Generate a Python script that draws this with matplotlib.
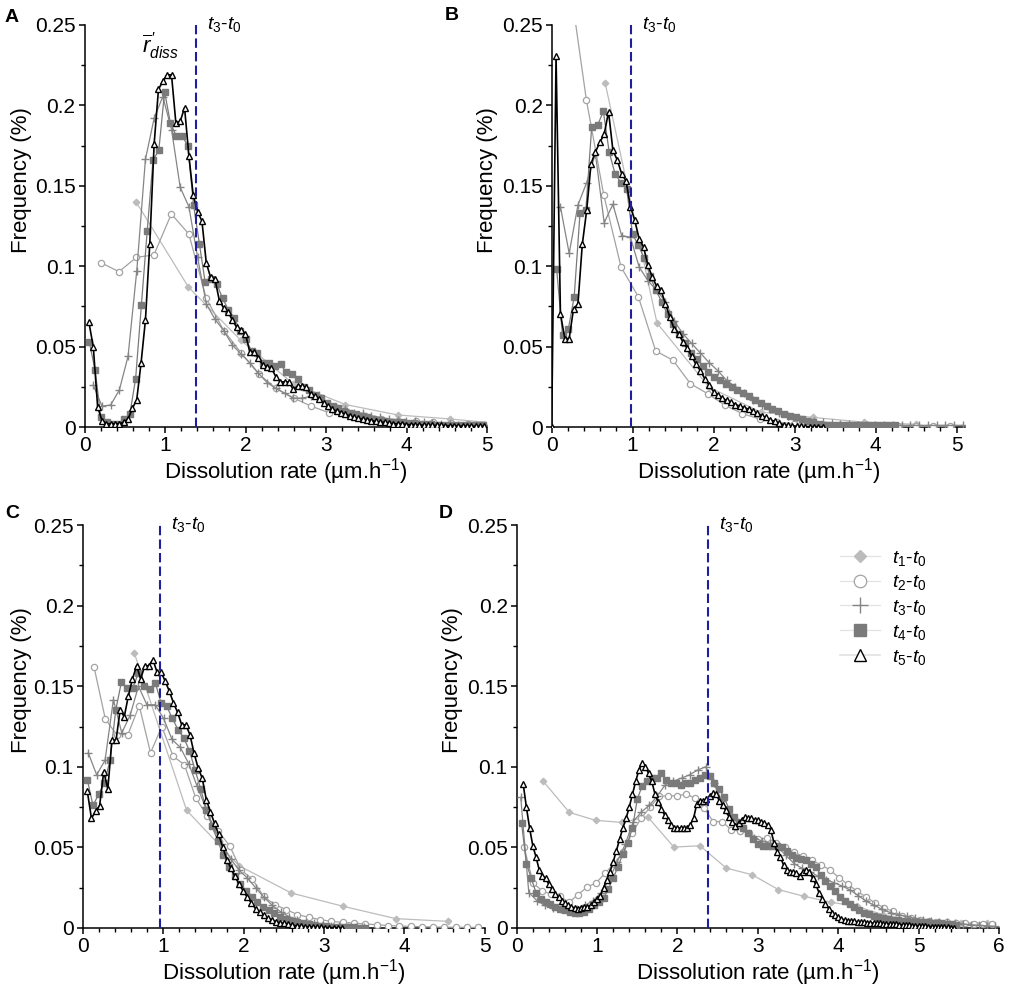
import numpy as np
import matplotlib
matplotlib.use("Agg")
import matplotlib.pyplot as plt
from matplotlib.lines import Line2D
from matplotlib.ticker import MultipleLocator

plt.rcParams['font.family'] = ['Liberation Sans', 'DejaVu Sans']
plt.rcParams['mathtext.fontset'] = 'custom'
plt.rcParams['mathtext.rm'] = 'Liberation Sans'
plt.rcParams['mathtext.it'] = 'Liberation Sans:italic'
plt.rcParams['mathtext.bf'] = 'Liberation Sans:bold'

# each series: (first bin, bin step, frequencies)
# ---- panel A ----
a_t1 = (0.64, 0.65, [0.140, 0.087, 0.054, 0.027, 0.014, 0.0075, 0.005, 0.002])
a_t2 = (0.21, 0.217, [0.102, 0.0966, 0.1055, 0.107, 0.1325, 0.120, 0.080, 0.060, 0.046, 0.033,
                      0.024, 0.018, 0.013, 0.009, 0.008, 0.006, 0.005, 0.004, 0.0035, 0.003,
                      0.0025, 0.002])
a_t3 = (0.108, 0.108, [0.026, 0.013, 0.0137, 0.023, 0.044, 0.097, 0.1665, 0.192, 0.2055, 0.185,
                       0.149, 0.137, 0.1055, 0.0765, 0.067, 0.060, 0.051, 0.0454, 0.040, 0.0334,
                       0.0276, 0.024, 0.021, 0.018, 0.018, 0.019, 0.020, 0.014, 0.012, 0.011,
                       0.009, 0.0085, 0.007, 0.006, 0.005, 0.0045, 0.004, 0.0035, 0.003, 0.0025,
                       0.002, 0.002, 0.0015, 0.001, 0.001, 0.001])
a_t4 = (0.058, 0.072, [0.053, 0.0355, 0.006, 0.003, 0.002, 0.002, 0.005, 0.008, 0.030, 0.076,
                       0.122, 0.166, 0.172, 0.2085, 0.189, 0.181, 0.181, 0.175, 0.138, 0.114,
                       0.090, 0.092, 0.089, 0.080, 0.073, 0.068, 0.060, 0.055, 0.047, 0.046,
                       0.040, 0.040, 0.038, 0.039, 0.034, 0.033, 0.030, 0.025, 0.023, 0.020,
                       0.018, 0.015, 0.013, 0.012, 0.010, 0.009, 0.008, 0.007, 0.006, 0.005,
                       0.004, 0.004, 0.003, 0.003, 0.003, 0.0025, 0.0025, 0.002, 0.002, 0.002,
                       0.0015, 0.0015, 0.0015, 0.001, 0.001, 0.001, 0.001, 0.001, 0.001])
a_t5 = (0.054, 0.054, [0.065, 0.050, 0.0126, 0.004, 0.002, 0.002, 0.002, 0.002, 0.003, 0.005,
                       0.0116, 0.017, 0.040, 0.0665, 0.114, 0.176, 0.210, 0.215, 0.219, 0.219,
                       0.189, 0.190, 0.1986, 0.1685, 0.144, 0.134, 0.128, 0.102, 0.093, 0.092,
                       0.0786, 0.074, 0.0716, 0.0665, 0.062, 0.0605, 0.058, 0.0468, 0.0468, 0.0427,
                       0.0386, 0.0375, 0.0365, 0.0313, 0.0282, 0.028, 0.028, 0.0234, 0.0255, 0.0255,
                       0.0246, 0.0205, 0.019, 0.0175, 0.0147, 0.013, 0.011, 0.010, 0.009, 0.008,
                       0.007, 0.006, 0.0055, 0.005, 0.0045, 0.004, 0.0035, 0.003, 0.003, 0.0025,
                       0.002, 0.002, 0.002, 0.0015, 0.0015, 0.0015, 0.0012, 0.0012, 0.001, 0.001,
                       0.001, 0.001, 0.0008, 0.0008, 0.0008, 0.0006, 0.0006, 0.0006, 0.0005, 0.0005,
                       0.0005, 0.0005])

# ---- panel B ----
b_t1 = (0.66, 0.64, [0.214, 0.0647, 0.0249, 0.0093, 0.006, 0.003, 0.0017])
b_t2 = (0.214, 0.214, [0.28, 0.2035, 0.1445, 0.0995, 0.081, 0.0473, 0.0415, 0.027, 0.0207, 0.0135,
                       0.0083, 0.005, 0.003, 0.002, 0.0015, 0.001, 0.001, 0.0008, 0.0007, 0.0006,
                       0.0005, 0.0005, 0.0005])
b_t3 = (0.108, 0.108, [0.137, 0.108, 0.138, 0.152, 0.170, 0.127, 0.1385, 0.119, 0.118, 0.0995,
                       0.091, 0.085, 0.078, 0.066, 0.058, 0.052, 0.046, 0.040, 0.035, 0.029,
                       0.025, 0.021, 0.017, 0.014, 0.011, 0.009, 0.007, 0.0055, 0.0045, 0.0035,
                       0.003, 0.0025, 0.002, 0.002, 0.0015, 0.0015, 0.0012, 0.0012, 0.001, 0.001,
                       0.001, 0.001, 0.001, 0.001, 0.001, 0.001, 0.001])
b_t4 = (0.062, 0.072, [0.098, 0.057, 0.061, 0.081, 0.133, 0.135, 0.1866, 0.1876, 0.1963, 0.171,
                       0.1575, 0.152, 0.148, 0.120, 0.113, 0.105, 0.094, 0.085, 0.078, 0.070,
                       0.064, 0.058, 0.052, 0.046, 0.042, 0.038, 0.034, 0.031, 0.029, 0.027,
                       0.025, 0.023, 0.021, 0.019, 0.017, 0.015, 0.013, 0.011, 0.010, 0.008,
                       0.007, 0.006, 0.005, 0.004, 0.003, 0.002, 0.0015, 0.001, 0.001, 0.001,
                       0.001, 0.001, 0.001, 0.001, 0.001, 0.001, 0.001, 0.001, 0.001])
b_t5 = (0.0, 0.054, [0.0, 0.2305, 0.0705, 0.055, 0.055, 0.0736, 0.0763, 0.1136, 0.1347, 0.1638,
                     0.171, 0.177, 0.182, 0.196, 0.172, 0.166, 0.1575, 0.153, 0.137, 0.1285,
                     0.117, 0.112, 0.1005, 0.0933, 0.0875, 0.085, 0.0767, 0.0684, 0.061, 0.058,
                     0.0529, 0.049, 0.044, 0.039, 0.035, 0.030, 0.026, 0.022, 0.020, 0.018,
                     0.0165, 0.0155, 0.014, 0.013, 0.012, 0.0112, 0.010, 0.0085, 0.007, 0.006,
                     0.0045, 0.0035, 0.0025, 0.0015, 0.001, 0.0008, 0.0005, 0.0004, 0.0003, 0.0002,
                     0.0001, 0.0, 0.0])

# ---- panel C ----
c_t1 = (0.642, 0.65, [0.1706, 0.073, 0.0387, 0.0217, 0.0134, 0.0058, 0.0041])
c_t2 = (0.141, 0.1405, [0.162, 0.1297, 0.120, 0.120, 0.138, 0.1086, 0.125, 0.1065, 0.1013, 0.0806,
                        0.0697, 0.060, 0.051, 0.036, 0.0304, 0.0196, 0.0145, 0.0114, 0.0083, 0.0066,
                        0.0052, 0.0041, 0.0035, 0.003, 0.0025, 0.002, 0.0015, 0.0012, 0.001, 0.0008,
                        0.0006, 0.0005, 0.0004, 0.0004, 0.0003])
c_t3 = (0.07, 0.104, [0.1086, 0.095, 0.104, 0.1416, 0.121, 0.132, 0.150, 0.1385, 0.1385, 0.130,
                      0.117, 0.112, 0.102, 0.088, 0.075, 0.062, 0.052, 0.043, 0.036, 0.031,
                      0.025, 0.019, 0.014, 0.010, 0.007, 0.005, 0.004, 0.003, 0.002, 0.0015,
                      0.001, 0.0008, 0.0005, 0.0003])
c_t4 = (0.058, 0.0705, [0.092, 0.076, 0.083, 0.090, 0.104, 0.135, 0.1524, 0.1489, 0.149, 0.158,
                        0.150, 0.148, 0.152, 0.1396, 0.1375, 0.130, 0.123, 0.118, 0.110, 0.098,
                        0.086, 0.073, 0.063, 0.054, 0.045, 0.038, 0.032, 0.027, 0.023, 0.019,
                        0.016, 0.013, 0.011, 0.009, 0.007, 0.0055, 0.0045, 0.0035, 0.0028, 0.0022,
                        0.0017, 0.0013, 0.001, 0.0008, 0.0006, 0.0005, 0.0004, 0.0003, 0.0002, 0.0001])
c_t5 = (0.058, 0.051, [0.0848, 0.068, 0.0724, 0.0759, 0.097, 0.0862, 0.1168, 0.1164, 0.1354, 0.131,
                       0.144, 0.1545, 0.1627, 0.1545, 0.1627, 0.1627, 0.1665, 0.1586, 0.1586, 0.153,
                       0.1468, 0.1396, 0.1338, 0.126, 0.126, 0.120, 0.1086, 0.0993, 0.093, 0.0796,
                       0.072, 0.065, 0.058, 0.050, 0.0424, 0.037, 0.032, 0.027, 0.023, 0.019,
                       0.0155, 0.012, 0.010, 0.0078, 0.0062, 0.005, 0.004, 0.0033, 0.0028, 0.0022,
                       0.0017, 0.0013, 0.001, 0.0008, 0.0006, 0.0005, 0.0004, 0.0003, 0.0002, 0.0002,
                       0.0001, 0.0001, 0.0])

# ---- panel D ----
d_t1 = (0.33, 0.325, [0.091, 0.0717, 0.0668, 0.0655, 0.0689, 0.0502, 0.051, 0.0372, 0.033, 0.0238,
                      0.0196, 0.016, 0.0134, 0.0083, 0.005, 0.004, 0.003, 0.003])
d_t2 = (0.092, 0.112, [0.050, 0.028, 0.023, 0.021, 0.0196, 0.016, 0.0207, 0.0254, 0.028, 0.034,
                       0.040, 0.047, 0.059, 0.068, 0.075, 0.0817, 0.082, 0.082, 0.083, 0.0806,
                       0.0744, 0.066, 0.066, 0.061, 0.060, 0.059, 0.055, 0.0558, 0.0527, 0.050,
                       0.047, 0.0445, 0.042, 0.039, 0.036, 0.031, 0.027, 0.0227, 0.0192, 0.0155,
                       0.0124, 0.0103, 0.0077, 0.0062, 0.0052, 0.0045, 0.004, 0.0035, 0.0032, 0.003,
                       0.0027, 0.0027, 0.0025])
d_t3 = (0.05, 0.1, [0.081, 0.022, 0.017, 0.014, 0.0125, 0.012, 0.0115, 0.012, 0.014, 0.017,
                    0.022, 0.030, 0.041, 0.052, 0.066, 0.072, 0.076, 0.082, 0.089, 0.091,
                    0.093, 0.095, 0.098, 0.100, 0.090, 0.079, 0.071, 0.065, 0.060, 0.056,
                    0.054, 0.0525, 0.050, 0.045, 0.040, 0.037, 0.035, 0.032, 0.030, 0.028,
                    0.026, 0.0235, 0.020, 0.0165, 0.014, 0.0115, 0.0095, 0.0082, 0.0072, 0.006,
                    0.0052, 0.0046, 0.004, 0.0035, 0.003, 0.0025, 0.002, 0.0017, 0.0013, 0.001])
d_t4 = (0.06, 0.06, [0.065, 0.040, 0.031, 0.022, 0.018, 0.016, 0.015, 0.013, 0.012, 0.011,
                     0.010, 0.0095, 0.0093, 0.010, 0.0118, 0.014, 0.016, 0.0186, 0.024, 0.031,
                     0.038, 0.046, 0.053, 0.062, 0.080, 0.088, 0.091, 0.093, 0.093, 0.096,
                     0.092, 0.090, 0.090, 0.089, 0.090, 0.090, 0.092, 0.093, 0.095, 0.094,
                     0.090, 0.086, 0.081, 0.074, 0.069, 0.066, 0.062, 0.059, 0.055, 0.052,
                     0.0507, 0.0507, 0.0507, 0.051, 0.050, 0.0475, 0.045, 0.0434, 0.043, 0.0424,
                     0.040, 0.038, 0.033, 0.029, 0.026, 0.023, 0.019, 0.017, 0.015, 0.013,
                     0.011, 0.0095, 0.0085, 0.0075, 0.0068, 0.0062, 0.0056, 0.0051, 0.0047, 0.0043,
                     0.0041, 0.0039, 0.0037, 0.0035, 0.0034, 0.0033, 0.0032, 0.0031, 0.0025, 0.0022,
                     0.002])
d_t5 = (0.08, 0.04, [0.0895, 0.075, 0.062, 0.051, 0.044, 0.036, 0.032, 0.031, 0.027, 0.024,
                     0.021, 0.019, 0.017, 0.0155, 0.014, 0.013, 0.0125, 0.012, 0.0125, 0.013,
                     0.013, 0.014, 0.016, 0.018, 0.020, 0.025, 0.030, 0.035, 0.041, 0.048,
                     0.055, 0.062, 0.068, 0.075, 0.083, 0.091, 0.098, 0.1024, 0.100, 0.096,
                     0.091, 0.083, 0.078, 0.074, 0.070, 0.067, 0.064, 0.062, 0.062, 0.062,
                     0.062, 0.062, 0.064, 0.068, 0.077, 0.079, 0.079, 0.080, 0.082, 0.0835,
                     0.083, 0.079, 0.076, 0.073, 0.069, 0.066, 0.063, 0.065, 0.067, 0.069,
                     0.068, 0.068, 0.067, 0.067, 0.066, 0.065, 0.064, 0.061, 0.053, 0.047,
                     0.044, 0.039, 0.036, 0.035, 0.035, 0.034, 0.0325, 0.035, 0.036, 0.0345,
                     0.031, 0.027, 0.022, 0.018, 0.015, 0.012, 0.0095, 0.0078, 0.0065, 0.0056,
                     0.005, 0.0046, 0.0043, 0.0041, 0.0039, 0.0037, 0.0035, 0.0033, 0.0031, 0.003,
                     0.0029, 0.0028, 0.0027, 0.0026, 0.0025, 0.0023, 0.0022, 0.002, 0.0019, 0.0017,
                     0.0016, 0.0015, 0.0013, 0.0012, 0.001, 0.001, 0.0009, 0.0008, 0.0007, 0.0006,
                     0.0005, 0.0004, 0.0003, 0.0002, 0.0001])

panels = {
    'A': dict(series=[a_t1, a_t2, a_t3, a_t4, a_t5], xmax=5, t3_line=1.38),
    'B': dict(series=[b_t1, b_t2, b_t3, b_t4, b_t5], xmax=5.1, t3_line=0.975),
    'C': dict(series=[c_t1, c_t2, c_t3, c_t4, c_t5], xmax=5, t3_line=0.96),
    'D': dict(series=[d_t1, d_t2, d_t3, d_t4, d_t5], xmax=6, t3_line=2.38),
}
legend_labels = [r'$\mathit{t_1}$-$\mathit{t_0}$', r'$\mathit{t_2}$-$\mathit{t_0}$',
                 r'$\mathit{t_3}$-$\mathit{t_0}$', r'$\mathit{t_4}$-$\mathit{t_0}$',
                 r'$\mathit{t_5}$-$\mathit{t_0}$']

# styles for t1..t5
styles = [
    dict(color='#bcbcbc', marker='D', ms=3.3, mfc='#bcbcbc', mec='#bcbcbc', lw=0.9, zorder=2),
    dict(color='#a3a3a3', marker='o', ms=4.5, mfc='white', mec='#a3a3a3', mew=0.9, lw=0.9, zorder=3),
    dict(color='#858585', marker='+', ms=6, mew=1.0, lw=0.9, zorder=4),
    dict(color='#7a7a7a', marker='s', ms=4.3, mfc='#7a7a7a', mec='#7a7a7a', lw=0.9, zorder=5),
    dict(color='black', marker='^', ms=4.6, mfc='white', mec='black', mew=1.0, lw=1.2, zorder=6),
]

fig = plt.figure(figsize=(10.13, 9.91), dpi=100)
W, H = 1013, 991
rects = {
    'A': [0.0835, 0.5691, 0.3973, 0.4057],
    'B': [0.5446, 0.5691, 0.4078, 0.4057],
    'C': [0.0816, 0.0636, 0.3971, 0.4066],
    'D': [0.5101, 0.0636, 0.4761, 0.4066],
}
letter_pos = {'A': (12, 17), 'B': (452, 16), 'C': (12, 514), 'D': (446, 514)}
ylabel_x = {'A': -0.131, 'B': -0.130, 'C': -0.126, 'D': -0.111}

for name, p in panels.items():
    ax = fig.add_axes(rects[name])
    for (x0, dx, freq), st in zip(p['series'], styles):
        freq = np.array(freq)
        rate = x0 + dx * np.arange(len(freq))
        ax.plot(rate, freq, **st)
    ax.axvline(p['t3_line'], color='#1f1f9e', lw=1.5, ls=(0, (4.5, 2)), zorder=7)
    ax.annotate(r'$\mathit{t_3}$-$\mathit{t_0}$', (p['t3_line'], 0.2505), xytext=(8, 0),
                textcoords='offset points', fontsize=14, va='center', ha='left',
                annotation_clip=False)
    ax.set_xlim(0, p['xmax'])
    ax.set_ylim(0, 0.25)
    ax.set_xticks(range(0, int(p['xmax']) + 1))
    ax.set_yticks([0, 0.05, 0.1, 0.15, 0.2, 0.25])
    ax.set_yticklabels(['0', '0.05', '0.1', '0.15', '0.2', '0.25'])
    ax.xaxis.set_minor_locator(MultipleLocator(0.2))
    ax.yaxis.set_minor_locator(MultipleLocator(0.025))
    for s in ['top', 'right']:
        ax.spines[s].set_visible(False)
    for s in ['left', 'bottom']:
        ax.spines[s].set_linewidth(1.1)
    ax.tick_params(which='major', length=4.5, width=1.1, labelsize=15, pad=2)
    ax.tick_params(which='minor', length=2.8, width=1.0)
    ax.set_xlabel('Dissolution rate (µm.h$^{\\mathregular{-1}}$)', fontsize=16, labelpad=1)
    ax.set_ylabel('Frequency (%)', fontsize=16)
    ax.yaxis.set_label_coords(ylabel_x[name], 0.615)
    fig.text(letter_pos[name][0] / W, 1 - letter_pos[name][1] / H, name,
             fontsize=14, fontweight='bold', va='center', ha='center')
    if name == 'A':
        ax.text(0.94, 0.237, r"$\overline{r}^{\,\prime}_{\mathit{diss}}$", fontsize=16,
                ha='center', va='center')
    if name == 'D':
        handles = []
        for st in styles:
            h = dict(st)
            h.pop('zorder')
            h['color'] = '#e2e2e2'
            h['ms'] = st['ms'] * 2.0
            h['mec'] = st.get('mec', st['color'])
            handles.append(Line2D([0], [0], **h))
        ax.legend(handles, legend_labels, loc='upper left', bbox_to_anchor=(0.634, 0.985),
                  frameon=False, fontsize=14, handlelength=2.06, labelspacing=0.3,
                  handletextpad=0.6, borderpad=0.4)

fig.savefig('out.png', dpi=100)
